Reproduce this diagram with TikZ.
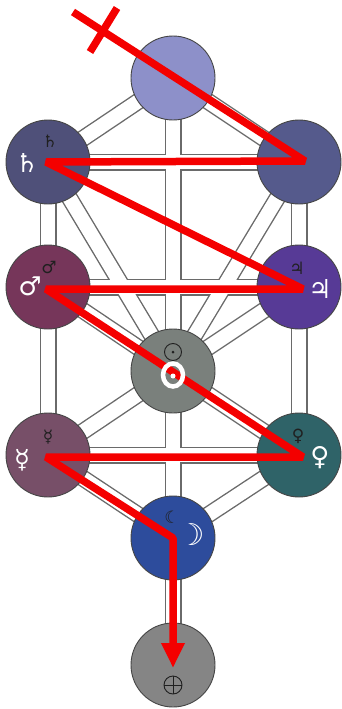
\documentclass[tikz,border=0pt]{standalone}
\usepackage{fontspec}
\newfontfamily\symfont{DejaVu Sans}
\newfontfamily\symbold{DejaVu Sans Bold}
\usetikzlibrary{arrows.meta}
\definecolor{bandgray}{HTML}{6A6A6A}
\definecolor{circedge}{HTML}{454545}
\definecolor{zigred}{HTML}{F40000}
\definecolor{symdark}{HTML}{202020}
\definecolor{cK}{HTML}{8D90C9}
\definecolor{cCh}{HTML}{555A8C}
\definecolor{cBi}{HTML}{4F5079}
\definecolor{cChe}{HTML}{573A96}
\definecolor{cGe}{HTML}{76365A}
\definecolor{cTi}{HTML}{7A807C}
\definecolor{cNe}{HTML}{2F6368}
\definecolor{cHo}{HTML}{774F68}
\definecolor{cYe}{HTML}{2D4C9C}
\definecolor{cMa}{HTML}{858585}
\begin{document}
\begin{tikzpicture}[x=1pt,y=-1pt,
  sephira/.style={circle, draw=circedge, line width=0.9pt, minimum size=84pt, inner sep=0pt},
  bandout/.style={draw=bandgray, line width=17pt},
  bandin/.style={draw=white, line width=14.2pt},
  redpath/.style={draw=zigred, line width=7.5pt, line join=bevel},
  darksym/.style={text=symdark, font=\symfont\fontsize{17}{17}\selectfont, inner sep=0pt},
  whitesym/.style={text=white, font=\symbold\fontsize{26}{26}\selectfont, inner sep=0pt},
  darkline/.style={draw=symdark, line width=0.9pt}]
\fill[white] (0,0) rectangle (341,709);
\useasboundingbox (0,0) rectangle (341,709);
% centres
\coordinate (K) at (173,78);
\coordinate (Ch) at (299,162);
\coordinate (Bi) at (48,162);
\coordinate (Che) at (299,287);
\coordinate (Ge) at (48,287);
\coordinate (Ti) at (173,371);
\coordinate (Ne) at (299,455);
\coordinate (Ho) at (48,455);
\coordinate (Ye) at (173,538);
\coordinate (Ma) at (173,665);
% paths
\foreach \a/\b in {K/Ch,K/Bi,K/Ti,Ch/Bi,Ch/Ti,Ch/Che,Bi/Ti,Bi/Ge,Che/Ge,Che/Ti,Che/Ne,Ge/Ti,Ge/Ho,Ti/Ne,Ti/Ho,Ti/Ye,Ne/Ho,Ne/Ye,Ho/Ye,Ye/Ma}
  \draw[bandout] (\a) -- (\b);
\foreach \a/\b in {K/Ch,K/Bi,K/Ti,Ch/Bi,Ch/Ti,Ch/Che,Bi/Ti,Bi/Ge,Che/Ge,Che/Ti,Che/Ne,Ge/Ti,Ge/Ho,Ti/Ne,Ti/Ho,Ti/Ye,Ne/Ho,Ne/Ye,Ho/Ye,Ye/Ma}
  \draw[bandin] (\a) -- (\b);
% spheres
\node[sephira, fill=cK] (nK) at (K) {};
\node[sephira, fill=cCh] (nCh) at (Ch) {};
\node[sephira, fill=cBi] (nBi) at (Bi) {};
\node[sephira, fill=cChe] (nChe) at (Che) {};
\node[sephira, fill=cGe] (nGe) at (Ge) {};
\node[sephira, fill=cTi] (nTi) at (Ti) {};
\node[sephira, fill=cNe] (nNe) at (Ne) {};
\node[sephira, fill=cHo] (nHo) at (Ho) {};
\node[sephira, fill=cYe] (nYe) at (Ye) {};
\node[sephira, fill=cMa] (nMa) at (Ma) {};
% dark symbols
\node[darksym] (dSat) at (50,141) {♄};
\node[darksym] (dMar) at (49,267) {♂};
\node[darksym] (dJup) at (297,268) {♃};
\node[darksym] (dVen) at (298,436) {♀};
\node[darksym] (dMer) at (48,437) {☿};
\node[darksym] (dMoo) at (172,517) {☾};
\draw[darkline] (173,352) circle[radius=8.5];
\fill[symdark] (173,352) circle[radius=1.5];
\draw[darkline] (173,685) circle[radius=9];
\draw[darkline] (164,685) -- (182,685);
\draw[darkline] (173,676) -- (173,694);
% red zig-zag
\coordinate (r0) at (73,12);
\coordinate (r1) at (305,161);
\coordinate (r2) at (46,162);
\coordinate (r3) at (303,289);
\coordinate (r4) at (46,289);
\coordinate (r5) at (303,457);
\coordinate (r6) at (46,457);
\coordinate (r7) at (173,538);
\coordinate (r8) at (173,668);
\coordinate (x0) at (117,8);
\coordinate (x1) at (90,52);
\draw[redpath, -{Triangle[width=22pt,length=25pt]}] (r0) -- (r1) -- (r2) -- (r3) -- (r4) -- (r5) -- (r6) -- (r7) -- (r8);
\draw[redpath] (x0) -- (x1);
% white symbols
\node[whitesym] (wSat) at (27,163) {♄};
\node[whitesym] (wMar) at (30,286) {♂};
\node[whitesym] (wJup) at (320,289) {♃};
\node[whitesym] (wVen) at (320,458) {♀};
\node[whitesym] (wMer) at (22,460) {☿};
\node[whitesym, font=\symbold\fontsize{30}{30}\selectfont] (wMoo) at (191,535) {☽};
\draw[white, line width=4.5pt] (173,375) ellipse[x radius=10, y radius=11.5];
\fill[white] (173,376) circle[radius=2.5];
\end{tikzpicture}
\end{document}
